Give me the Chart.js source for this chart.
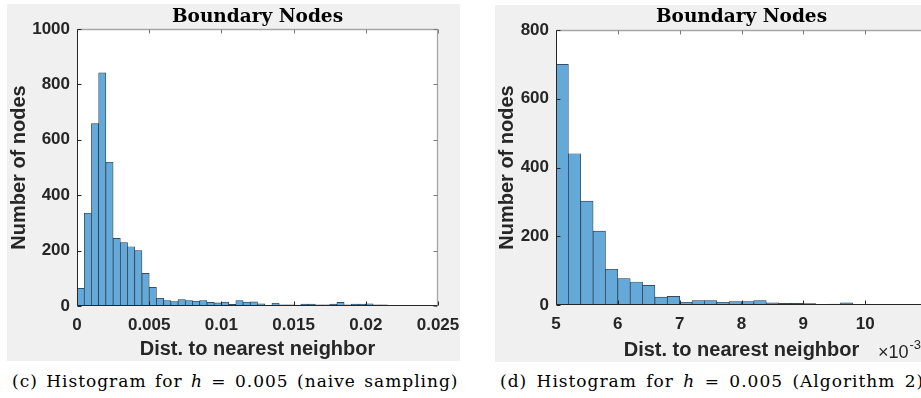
<!DOCTYPE html>
<html>
<head>
<meta charset="utf-8">
<script src="https://cdn.jsdelivr.net/npm/chart.js"></script>
<style>
  html, body { margin: 0; overflow: hidden; background: #fff; }
  #page { position: relative; width: 921px; height: 398px; overflow: hidden; }
  .panel { position: absolute; background: #f0f0f0; width: 453px; height: 357px; }
  #leftPanel { left: 7px; top: 4px; }
  #rightPanel { left: 495px; top: 5px; }
  .caption { position: absolute; top: 371px; font-family: "DejaVu Serif", serif; font-size: 17px; letter-spacing: 1px; word-spacing: 2px; color: #000; white-space: nowrap; }
  .caption i { font-style: italic; }
</style>
</head>
<body>
<div id="page">
<div class="panel" id="leftPanel"><canvas id="leftChart" width="453" height="357"></canvas></div>
<div class="panel" id="rightPanel"><canvas id="rightChart" width="453" height="357"></canvas></div>
<div class="caption" style="left: 12px;">(c) Histogram for <i>h</i> = 0.005 (naive sampling)</div>
<div class="caption" style="left: 500px; word-spacing: 3px;">(d) Histogram for <i>h</i> = 0.005 (Algorithm 2)</div>
</div>
<script>
// left: naive sampling, bins of 0.0005
const leftCounts = [64, 335, 659, 842, 519, 244, 229, 214, 200, 118, 67, 28, 20, 16, 23, 20, 18, 20, 13, 11,
  14, 6, 20, 14, 15, 8, 2, 10, 4, 4, 3, 7, 7, 4, 4, 7, 13, 4, 7, 7, 8, 4, 4];
const leftBinStart = 0;
const leftBinWidth = 0.0005;
const leftXTicks = [0, 0.005, 0.01, 0.015, 0.02, 0.025];
const leftXTickLabels = ['0', '0.005', '0.01', '0.015', '0.02', '0.025'];
const leftYTicks = [0, 200, 400, 600, 800, 1000];

// right: Algorithm 2, x in units of 1e-3, bins of 0.2
const rightCounts = [700, 440, 302, 215, 104, 77, 67, 57, 23, 25, 8, 13, 13, 8, 10, 10, 13, 6, 5, 5,
  4, 1, 3, 6, 2, 1, 0, 2];
const rightBinStart = 5;
const rightBinWidth = 0.2;
const rightXTicks = [5, 6, 7, 8, 9, 10, 11];
const rightXTickLabels = ['5', '6', '7', '8', '9', '10', ''];
const rightYTicks = [0, 200, 400, 600, 800];

const textColor = '#262626';
const sans = '"Liberation Sans", Arial, sans-serif';

const framePlugin = {
    id: 'frame',
    beforeDraw(chart) {
        const { ctx, chartArea: a } = chart;
        ctx.save();
        ctx.fillStyle = '#ffffff';
        ctx.fillRect(a.left, a.top, a.right - a.left, a.bottom - a.top);
        ctx.restore();
    },
    afterDraw(chart, args, opts) {
        const { ctx, chartArea: a, scales: { x, y } } = chart;
        const L = Math.round(a.left) + 0.5, R = Math.round(a.right) - 0.5;
        const T = Math.round(a.top) + 0.5, B = Math.round(a.bottom) - 0.5;
        ctx.save();

        // top and right edges are lighter, like the original figure
        ctx.strokeStyle = '#a6a6a6';
        ctx.lineWidth = 1.3;
        ctx.beginPath();
        ctx.moveTo(L, T); ctx.lineTo(R, T); ctx.lineTo(R, B);
        ctx.stroke();
        ctx.lineWidth = 1;
        ctx.strokeStyle = '#7a7a7a';
        ctx.beginPath();
        x.ticks.forEach(t => {
            const px = Math.round(x.getPixelForValue(t.value)) + 0.5;
            ctx.moveTo(px, T); ctx.lineTo(px, T + 4);
        });
        y.ticks.forEach(t => {
            const py = Math.round(y.getPixelForValue(t.value)) + 0.5;
            ctx.moveTo(R, py); ctx.lineTo(R - 4, py);
        });
        ctx.stroke();

        ctx.strokeStyle = textColor;
        ctx.beginPath();
        ctx.moveTo(L, T); ctx.lineTo(L, B); ctx.lineTo(R, B);
        x.ticks.forEach(t => {
            const px = Math.round(x.getPixelForValue(t.value)) + 0.5;
            ctx.moveTo(px, B); ctx.lineTo(px, B - 4);
        });
        y.ticks.forEach(t => {
            const py = Math.round(y.getPixelForValue(t.value)) + 0.5;
            ctx.moveTo(L, py); ctx.lineTo(L + 4, py);
        });
        ctx.stroke();

        ctx.fillStyle = '#000';
        ctx.font = 'bold 18.5px "DejaVu Serif", serif';
        ctx.textAlign = 'center';
        ctx.textBaseline = 'alphabetic';
        ctx.fillText(opts.title, (a.left + a.right) / 2, opts.titleY);

        if (opts.exponent) {
            ctx.fillStyle = textColor;
            ctx.textAlign = 'left';
            ctx.font = '18px ' + sans;
            const x0 = a.right - 49;
            ctx.fillText('\u00d710', x0, opts.expY);
            const w = ctx.measureText('\u00d710').width;
            ctx.font = '13px ' + sans;
            ctx.fillText(opts.exponent, x0 + w + 1, opts.expY - 9);
        }
        ctx.restore();
    }
};

function histogram(id, counts, binStart, binWidth, xMin, xMax, xTicks, xTickLabels, yMax, yTicks, pad, xAxisHeight, frameOpts) {
    const points = counts.map((c, i) => ({ x: binStart + (i + 0.5) * binWidth, y: c }));
    return new Chart(document.getElementById(id), {
        type: 'bar',
        data: {
            datasets: [{
                data: points,
                backgroundColor: '#64a9d8',
                borderColor: '#263340',
                borderWidth: 0.7,
                borderSkipped: 'start',
                barPercentage: 1,
                categoryPercentage: 1
            }]
        },
        options: {
            responsive: false,
            animation: false,
            events: [],
            layout: { padding: pad },
            plugins: {
                legend: { display: false },
                tooltip: { enabled: false },
                frame: frameOpts
            },
            scales: {
                x: {
                    type: 'linear',
                    offset: false,
                    min: xMin,
                    max: xMax,
                    afterBuildTicks: s => { s.ticks = xTicks.map(v => ({ value: v })); },
                    afterFit: s => {
                        s.height = xAxisHeight;
                        s.paddingLeft = 0;
                        s.paddingRight = 0;
                    },
                    grid: { display: false, drawTicks: false, offset: false },
                    border: { display: false },
                    ticks: {
                        autoSkip: false,
                        maxRotation: 0,
                        padding: 9,
                        color: textColor,
                        font: { family: sans, size: 17, weight: 'bold' },
                        callback: (v, i) => xTickLabels[i]
                    },
                    title: {
                        display: true,
                        text: 'Dist. to nearest neighbor',
                        color: textColor,
                        padding: 0,
                        font: { family: sans, size: 20, weight: 'bold' }
                    }
                },
                y: {
                    min: 0,
                    max: yMax,
                    afterBuildTicks: s => { s.ticks = yTicks.map(v => ({ value: v })); },
                    afterFit: s => {
                        s.width = pad.yAxisWidth;
                        s.paddingTop = 0;
                        s.paddingBottom = 0;
                    },
                    grid: { display: false, drawTicks: false },
                    border: { display: false },
                    ticks: {
                        padding: 7,
                        color: textColor,
                        font: { family: sans, size: 17, weight: 'bold' },
                        callback: v => String(v)
                    },
                    title: {
                        display: true,
                        text: 'Number of nodes',
                        color: textColor,
                        padding: 0,
                        font: { family: sans, size: 20, weight: 'bold' }
                    }
                }
            }
        },
        plugins: [framePlugin]
    });
}

histogram('leftChart', leftCounts, leftBinStart, leftBinWidth, 0, 0.025, leftXTicks, leftXTickLabels,
    1000, leftYTicks, { top: 25, left: 0, right: 22, bottom: 0, yAxisWidth: 70 }, 55,
    { title: 'Boundary Nodes', titleY: 18 });

histogram('rightChart', rightCounts, rightBinStart, rightBinWidth, 5, 11, rightXTicks, rightXTickLabels,
    800, rightYTicks, { top: 25, left: 0, right: 21, bottom: 0, yAxisWidth: 61 }, 57,
    { title: 'Boundary Nodes', titleY: 17, exponent: '-3', expY: 353 });
</script>
</body>
</html>
